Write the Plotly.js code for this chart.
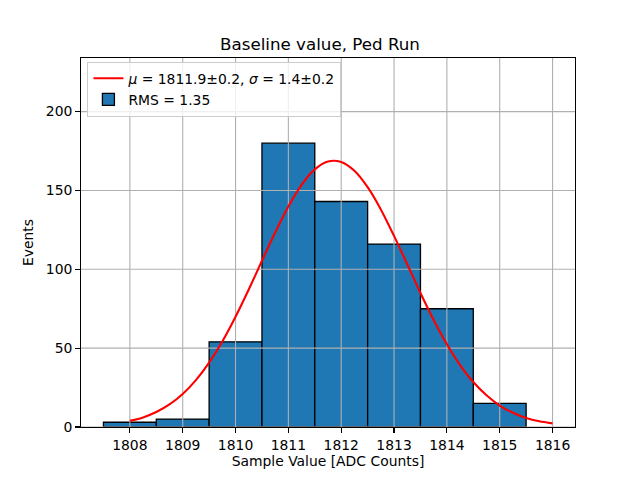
<!DOCTYPE html>
<html>
<head>
<meta charset="utf-8">
<script src="https://cdn.plot.ly/plotly-3.0.1.min.js"></script>
<style>html,body{margin:0;padding:0;background:#fff;}#chart{width:640px;height:480px;}</style>
</head>
<body>
<div id="chart"></div>
<script>
// Histogram data
const binCenters = [1808, 1809, 1810, 1811, 1812, 1813, 1814, 1815];
const binCounts = [3, 5, 54, 180, 143, 116, 75, 15];
// Fitted curve
const fitX = [1808, 1808.25, 1808.5, 1808.75, 1809, 1809.25, 1809.5, 1809.75,
              1810, 1810.25, 1810.5, 1810.75, 1811, 1811.25, 1811.5, 1811.75,
              1812, 1812.25, 1812.5, 1812.75, 1813, 1813.25, 1813.5, 1813.75,
              1814, 1814.25, 1814.5, 1814.75, 1815, 1815.25, 1815.5, 1815.75, 1816];
const fitY = [3.9, 6.1, 9.5, 14.3, 20.9, 29.7, 40.8, 54.2,
              69.9, 87.2, 105.4, 123.3, 139.8, 153.6, 163.4, 168.4,
              168.1, 162.5, 152.1, 138.0, 121.2, 103.2, 85.0, 67.9,
              52.5, 39.3, 28.5, 20.1, 13.6, 9.0, 5.7, 3.6, 2.3];
// Ticks
const xTicks = [1808, 1809, 1810, 1811, 1812, 1813, 1814, 1815, 1816];
const yTicks = [0, 50, 100, 150, 200];
const xRange = [1807.075, 1816.425];
const yRange = [0, 234];

const fitLabel = '<i>μ</i> = 1811.9±0.2, <i>σ</i> = 1.4±0.2';
const barLabel = 'RMS = 1.35';

// grid lines (drawn above bars, below curve, like matplotlib)
const gx = [], gy = [];
xTicks.forEach(t => { gx.push(t, t, null); gy.push(yRange[0], yRange[1], null); });
yTicks.forEach(t => { gx.push(xRange[0], xRange[1], null); gy.push(t, t, null); });

const traces = [
  {
    type: 'bar', x: binCenters, y: binCounts, width: 1,
    marker: {color: '#1f77b4', line: {color: '#000000', width: 1.3}},
    name: barLabel, legendrank: 2, hoverinfo: 'skip'
  },
  {
    type: 'scatter', mode: 'lines', x: gx, y: gy,
    line: {color: '#b0b0b0', width: 1.1}, showlegend: false, hoverinfo: 'skip'
  },
  {
    type: 'scatter', mode: 'lines', x: fitX, y: fitY,
    line: {color: '#ff0000', width: 2.1, shape: 'spline', smoothing: 0.8},
    name: fitLabel, legendrank: 1, hoverinfo: 'skip'
  }
];

const layout = {
  width: 640, height: 480,
  margin: {l: 81, r: 65, t: 58, b: 53},
  paper_bgcolor: '#ffffff', plot_bgcolor: '#ffffff',
  font: {family: 'DejaVu Sans', size: 13.9, color: '#000'},
  title: {text: 'Baseline value, Ped Run', font: {size: 16.7, family: 'DejaVu Sans'}, x: 0.5, xanchor: 'center', y: 0.895, yanchor: 'bottom'},
  showlegend: true,
  legend: {
    x: 0.013, y: 0.99, xanchor: 'left', yanchor: 'top',
    bgcolor: 'rgba(255,255,255,0.8)', bordercolor: '#cccccc', borderwidth: 1,
    font: {size: 13.9, family: 'DejaVu Sans'}, tracegroupgap: 0, itemwidth: 30
  },
  xaxis: {
    range: xRange, tickmode: 'array', tickvals: xTicks, ticktext: xTicks.map(String),
    showgrid: false, zeroline: false, showline: true, mirror: true, linecolor: '#000', linewidth: 1,
    ticks: 'outside', ticklen: 4.9, tickwidth: 1.1, tickcolor: '#000',
    title: {text: 'Sample Value [ADC Counts]', font: {size: 13.9}, standoff: 4}
  },
  yaxis: {
    range: yRange, tickmode: 'array', tickvals: yTicks, ticktext: yTicks.map(String),
    showgrid: false, zeroline: false, showline: true, mirror: true, linecolor: '#000', linewidth: 1,
    ticks: 'outside', ticklen: 4.9, tickwidth: 1.1, tickcolor: '#000',
    title: {text: 'Events', font: {size: 13.9}, standoff: 8}
  },
  bargap: 0
};

Plotly.newPlot('chart', traces, layout, {staticPlot: true, displayModeBar: false});
</script>
</body>
</html>
